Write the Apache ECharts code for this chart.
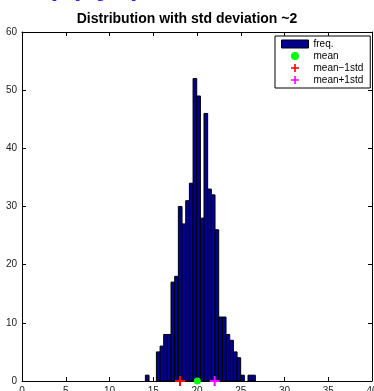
<!DOCTYPE html>
<html><head><meta charset="utf-8">
<script src="https://cdn.jsdelivr.net/npm/echarts@6/dist/echarts.min.js"></script>
<style>html,body{margin:0;padding:0;background:#fff;overflow:hidden}#c{width:374px;height:391px}</style>
</head><body><div id="c"></div>
<script>
// ---- data ----
const binCenters = [14.31,14.73,15.15,15.57,15.99,16.40,16.82,17.24,17.66,18.08,18.50,18.92,19.34,19.76,20.18,20.60,21.01,21.43,21.85,22.27,22.69,23.11,23.53,23.95,24.37,24.78,25.20,25.62,26.04,26.46];
const binCounts  = [1,0,0,5,6,8,8,17,18,30,27,31,34,52,49,28,46,33,32,26,11,11,8,7,5,4,1,0,1,1];
const binWidth = 0.419;
const meanValue = 20.04;
const meanMinusStd = 18.06;
const meanPlusStd = 22.02;
const xMin = 0, xMax = 40, xStep = 5;
const yMin = 0, yMax = 60, yStep = 10;
const titleText = 'Distribution with std deviation ~2';
const seriesNames = ['freq.', 'mean', 'mean\u22121std', 'mean+1std'];
const headingText = 'Happy path';

const FONT = '"Liberation Sans", Arial, Helvetica, sans-serif';
const BAR = '#000090';
const PLUS = 'path://M4,0H6V4H10V6H6V10H4V6H0V4H4Z';

const chart = echarts.init(document.getElementById('c'), null, {renderer: 'canvas'});

function axisCommon(pos, showLabel, min, max, step) {
  return {
    type: 'value', position: pos, min: min, max: max, interval: step,
    axisLine: {show: true, onZero: false, lineStyle: {color: '#000', width: 1}},
    axisTick: {show: true, inside: true, length: 4, lineStyle: {color: '#000', width: 1}},
    axisLabel: {show: showLabel, color: '#222', fontSize: 10, fontFamily: FONT, margin: 5},
    splitLine: {show: false}
  };
}

const option = {
  animation: false,
  backgroundColor: '#fff',
  title: {
    text: titleText, left: 'center', top: 12, padding: [0, 0, 0, 20],
    textStyle: {fontSize: 14, fontWeight: 'bold', fontFamily: FONT, color: '#000'}
  },
  graphic: [{
    type: 'text', x: -4, y: -50, silent: true,
    style: {text: headingText, font: '42px ' + FONT, lineHeight: 60, fill: '#2a2adf', verticalAlign: 'top'}
  }],
  grid: {left: 22, top: 32, width: 350, height: 349, containLabel: false, outerBoundsMode: 'none'},
  xAxis: [axisCommon('bottom', true, xMin, xMax, xStep), axisCommon('top', false, xMin, xMax, xStep)],
  yAxis: [axisCommon('left', true, yMin, yMax, yStep), axisCommon('right', false, yMin, yMax, yStep)],
  legend: {
    orient: 'vertical', left: 275, top: 36,
    backgroundColor: '#fff', borderColor: '#000', borderWidth: 1,
    padding: [3, 7, 3, 6], itemGap: 2, itemWidth: 27, itemHeight: 8,
    textStyle: {fontSize: 10, fontFamily: FONT, color: '#000', lineHeight: 10},
    data: [
      {name: seriesNames[0], icon: 'rect', itemStyle: {color: BAR, borderColor: '#000', borderWidth: 1}},
      {name: seriesNames[1], icon: 'circle'},
      {name: seriesNames[2], icon: PLUS},
      {name: seriesNames[3], icon: PLUS}
    ]
  },
  series: [
    {
      name: seriesNames[0], type: 'custom', xAxisIndex: 0, yAxisIndex: 0,
      itemStyle: {color: BAR},
      encode: {x: 0, y: 1},
      data: binCenters.map((c, i) => [c, binCounts[i]]),
      renderItem: function (params, api) {
        const c = api.value(0), h = api.value(1);
        if (!h) return null;
        const p0 = api.coord([c - binWidth / 2, h]);
        const p1 = api.coord([c + binWidth / 2, 0]);
        return {
          type: 'rect',
          shape: {x: p0[0], y: p0[1], width: p1[0] - p0[0], height: p1[1] - p0[1]},
          style: {fill: BAR, stroke: '#000', lineWidth: 1}
        };
      }
    },
    {
      name: seriesNames[1], type: 'scatter', clip: false, z: 10,
      symbol: 'circle', symbolSize: 7, itemStyle: {color: '#00ff00', opacity: 1},
      data: [[meanValue, 0]]
    },
    {
      name: seriesNames[2], type: 'scatter', clip: false, z: 10,
      symbol: PLUS, symbolSize: 10, itemStyle: {color: '#ff0000', opacity: 1},
      data: [[meanMinusStd, 0]]
    },
    {
      name: seriesNames[3], type: 'scatter', clip: false, z: 10,
      symbol: PLUS, symbolSize: 10, itemStyle: {color: '#ff00ff', opacity: 1},
      data: [[meanPlusStd, 0]]
    }
  ]
};
chart.setOption(option);
</script>
</body></html>
